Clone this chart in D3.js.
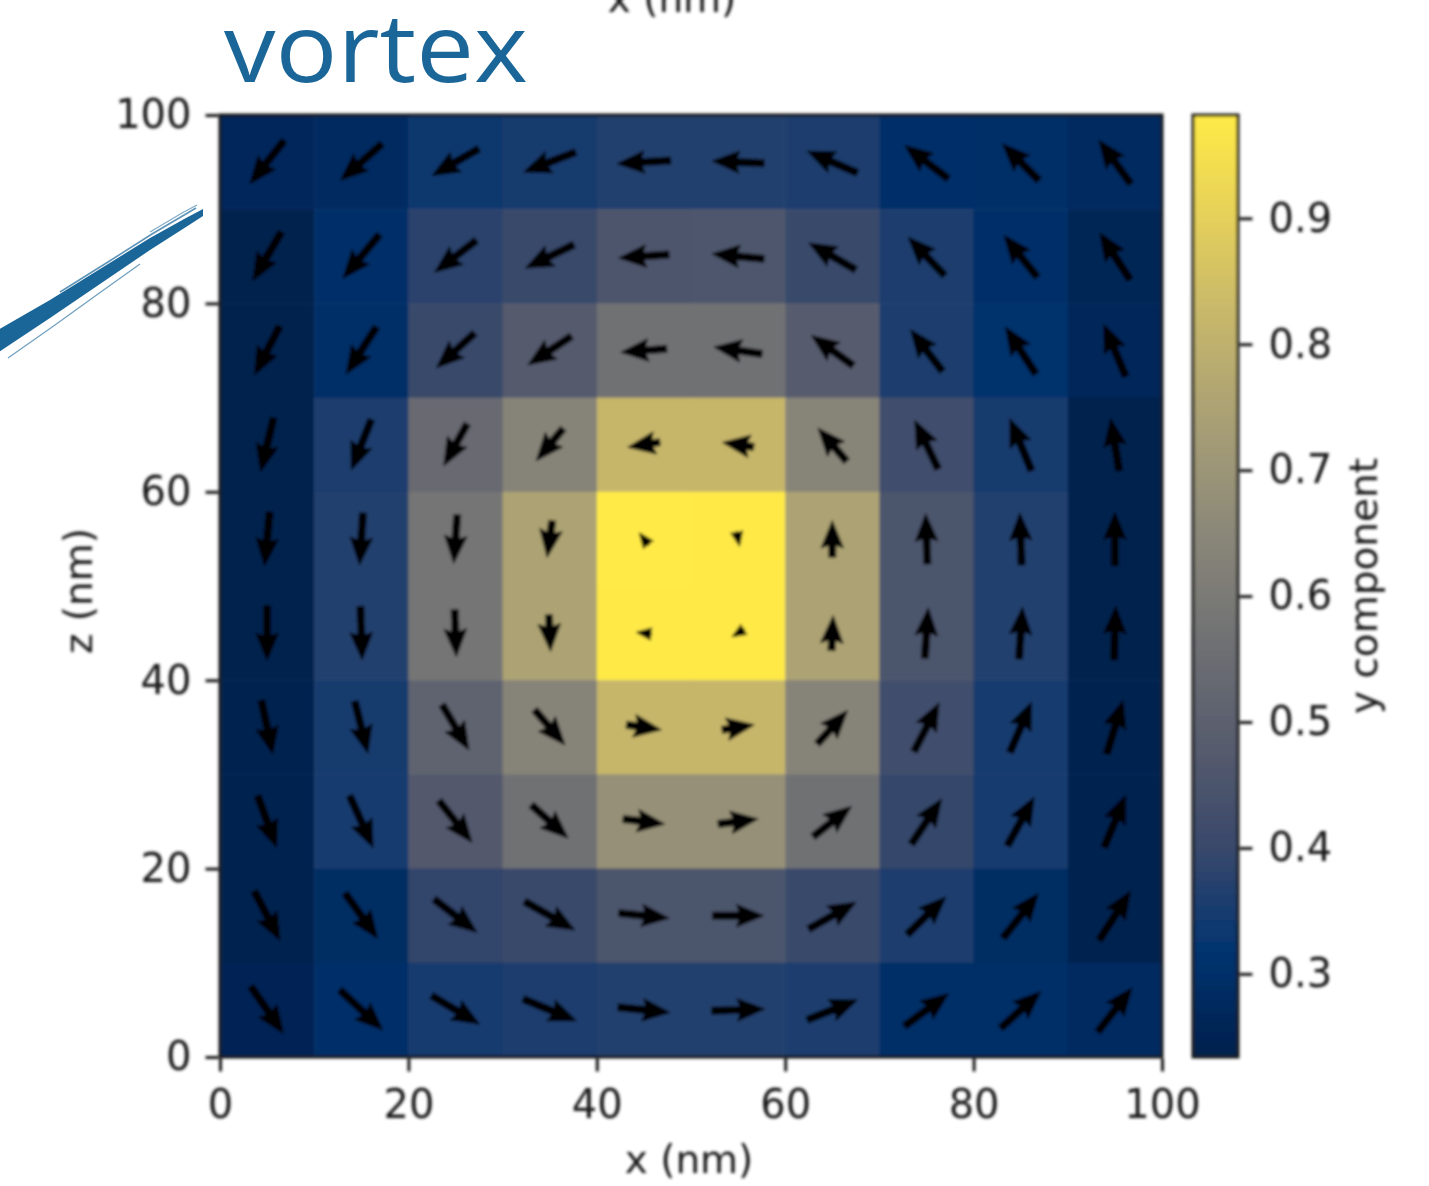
<!DOCTYPE html>
<html>
<head>
<meta charset="utf-8">
<script src="https://cdn.jsdelivr.net/npm/d3@7"></script>
<style>
  html, body { margin: 0; padding: 0; background: #ffffff; }
  svg { display: block; }
</style>
</head>
<body>
<svg id="fig" width="1429" height="1186"></svg>
<script>
// Cell centres of the 10 x 10 simulation grid (nm); rows listed top (z = 95) to bottom (z = 5)
const xCentres = [5, 15, 25, 35, 45, 55, 65, 75, 85, 95];
const zCentres = [95, 85, 75, 65, 55, 45, 35, 25, 15, 5];

// Out-of-plane (y) magnetisation component per cell
const yComponent = [
  [0.270, 0.280, 0.340, 0.350, 0.365, 0.365, 0.360, 0.300, 0.295, 0.280],
  [0.235, 0.300, 0.380, 0.400, 0.455, 0.458, 0.400, 0.355, 0.300, 0.255],
  [0.235, 0.295, 0.400, 0.475, 0.565, 0.567, 0.483, 0.358, 0.310, 0.265],
  [0.236, 0.355, 0.536, 0.636, 0.820, 0.820, 0.640, 0.423, 0.350, 0.236],
  [0.236, 0.365, 0.580, 0.750, 0.982, 0.980, 0.750, 0.452, 0.365, 0.234],
  [0.236, 0.366, 0.580, 0.750, 0.980, 0.980, 0.750, 0.452, 0.366, 0.235],
  [0.240, 0.349, 0.510, 0.636, 0.820, 0.820, 0.636, 0.423, 0.348, 0.240],
  [0.242, 0.343, 0.472, 0.567, 0.682, 0.682, 0.567, 0.395, 0.343, 0.240],
  [0.240, 0.290, 0.390, 0.400, 0.452, 0.452, 0.400, 0.358, 0.290, 0.242],
  [0.250, 0.300, 0.343, 0.358, 0.366, 0.366, 0.355, 0.295, 0.295, 0.280]
];

// In-plane components drawn as arrows: x component and z component
const xComponent = [
  [-0.60, -0.73, -0.82, -0.91, -0.94, -0.91, -0.88, -0.76, -0.64, -0.56],
  [-0.50, -0.64, -0.73, -0.85, -0.88, -0.91, -0.82, -0.64, -0.58, -0.53],
  [-0.44, -0.53, -0.67, -0.76, -0.80, -0.84, -0.73, -0.56, -0.53, -0.38],
  [-0.23, -0.35, -0.41, -0.47, -0.56, -0.55, -0.50, -0.41, -0.38, -0.15],
  [-0.09, -0.06, -0.06, -0.09, -0.16, 0.05, 0.00, -0.03, -0.03, 0.00],
  [0.00, 0.03, 0.03, 0.03, -0.26, -0.21, 0.03, 0.06, 0.06, 0.03],
  [0.20, 0.23, 0.47, 0.53, 0.61, 0.56, 0.53, 0.44, 0.38, 0.29],
  [0.33, 0.41, 0.58, 0.64, 0.73, 0.70, 0.67, 0.53, 0.47, 0.38],
  [0.45, 0.57, 0.75, 0.88, 0.88, 0.90, 0.83, 0.68, 0.62, 0.55],
  [0.57, 0.75, 0.84, 0.93, 0.91, 0.93, 0.88, 0.77, 0.70, 0.60]
];
const zComponent = [
  [-0.76, -0.64, -0.47, -0.35, -0.06, 0.04, 0.38, 0.58, 0.64, 0.76],
  [-0.85, -0.76, -0.56, -0.41, -0.06, 0.09, 0.47, 0.67, 0.73, 0.82],
  [-0.85, -0.82, -0.61, -0.50, -0.06, 0.12, 0.53, 0.73, 0.82, 0.91],
  [-0.94, -0.88, -0.73, -0.56, -0.09, 0.08, 0.58, 0.85, 0.91, 0.91],
  [-0.94, -0.91, -0.85, -0.64, 0.21, -0.25, 0.64, 0.88, 0.91, 0.94],
  [-0.96, -0.94, -0.82, -0.64, 0.03, -0.13, 0.61, 0.88, 0.91, 0.94],
  [-0.94, -0.91, -0.79, -0.61, -0.09, 0.09, 0.58, 0.85, 0.88, 0.94],
  [-0.91, -0.91, -0.73, -0.58, -0.09, 0.09, 0.53, 0.79, 0.85, 0.91],
  [-0.86, -0.79, -0.58, -0.50, -0.09, 0.00, 0.47, 0.66, 0.78, 0.86],
  [-0.82, -0.70, -0.50, -0.38, -0.09, 0.03, 0.35, 0.57, 0.64, 0.77]
];

const axisTicks = [0, 20, 40, 60, 80, 100];
const colourTicks = [0.3, 0.4, 0.5, 0.6, 0.7, 0.8, 0.9];

// cividis palette, evenly spaced stops
const cividisStops = ["#00204d", "#00336f", "#39486b", "#575c6d", "#707173",
                      "#8a8779", "#a69d75", "#c4b56c", "#e4cf5b", "#ffea46"];

const svg = d3.select("#fig");
const FONT = "'DejaVu Sans', sans-serif";
const INK = "#151515";

const plot = { left: 220, right: 1162, top: 115, bottom: 1057 };
const bar = { left: 1193, right: 1238, top: 115, bottom: 1057 };

const x = d3.scaleLinear().domain([0, 100]).range([plot.left, plot.right]);
const z = d3.scaleLinear().domain([0, 100]).range([plot.bottom, plot.top]);

const [vmin, vmax] = d3.extent(yComponent.flat());
const colour = d3.scaleLinear()
  .domain(cividisStops.map((_, i) => vmin + (vmax - vmin) * i / (cividisStops.length - 1)))
  .range(cividisStops)
  .interpolate(d3.interpolateRgb)
  .clamp(true);
const barScale = d3.scaleLinear().domain([vmin, vmax]).range([bar.bottom, bar.top]);
const arrowLen = d3.scaleLinear().domain([0, 1]).range([0, 57]);

const defs = svg.append("defs");
// soft rendering of the figure
defs.append("filter").attr("id", "soft")
  .attr("x", "-5%").attr("y", "-5%").attr("width", "110%").attr("height", "110%")
  .append("feGaussianBlur").attr("stdDeviation", 1.45);

// colour-bar gradient, sampled from the colour scale
const grad = defs.append("linearGradient").attr("id", "cbar")
  .attr("x1", 0).attr("y1", 1).attr("x2", 0).attr("y2", 0);
grad.selectAll("stop").data(d3.range(0, 41).map(i => i / 40)).join("stop")
  .attr("offset", t => t)
  .attr("stop-color", t => colour(vmin + (vmax - vmin) * t));

const fig = svg.append("g").attr("filter", "url(#soft)");

// ---- heat-map cells ----
const cells = [];
zCentres.forEach((zc, r) => xCentres.forEach((xc, c) => {
  cells.push({ xc, zc, v: yComponent[r][c], u: xComponent[r][c], w: zComponent[r][c] });
}));

fig.append("g").selectAll("rect").data(cells).join("rect")
  .attr("x", d => x(d.xc - 5))
  .attr("y", d => z(d.zc + 5))
  .attr("width", d => x(d.xc + 5) - x(d.xc - 5) + 0.5)
  .attr("height", d => z(d.zc - 5) - z(d.zc + 5) + 0.5)
  .attr("fill", d => colour(d.v));

// ---- quiver arrows (shaft width W, pivot at the arrow middle) ----
const W = 7.0, HL = 3.9 * W, HAL = 3.5 * W, HW = 3.2 * W;
function arrowShape(L) {
  let X, Y;
  const baseY = [W / 2, W / 2, HW / 2, 0, -HW / 2, -W / 2, -W / 2];
  if (L >= HL) {
    X = [0, L - HAL, L - HL, L, L - HL, L - HAL, 0];
    Y = baseY;
  } else {
    const s = L / HL;
    X = [0, HL - HAL, 0, HL, 0, HL - HAL, 0].map(v => v * s);
    Y = baseY.map(v => v * s);
  }
  const mid = X[3] / 2;
  return X.map((v, i) => [v - mid, Y[i]]);
}
const line = d3.line();
fig.append("g").selectAll("path").data(cells).join("path")
  .attr("d", d => line(arrowShape(arrowLen(Math.hypot(d.u, d.w)))) + "Z")
  .attr("transform", d => `translate(${x(d.xc)},${z(d.zc)}) rotate(${Math.atan2(-d.w, d.u) * 180 / Math.PI})`)
  .attr("fill", "#000")
  .attr("stroke", "#000").attr("stroke-width", 1).attr("stroke-linejoin", "round");

// ---- frame ----
fig.append("rect")
  .attr("x", plot.left).attr("y", plot.top)
  .attr("width", plot.right - plot.left).attr("height", plot.bottom - plot.top)
  .attr("fill", "none").attr("stroke", INK).attr("stroke-width", 3);

function styleAxis(g) {
  g.select(".domain").remove();
  g.selectAll(".tick line").attr("stroke", INK).attr("stroke-width", 3);
  g.selectAll(".tick text").attr("fill", INK)
    .attr("font-family", FONT).attr("font-size", 40);
}

fig.append("g").attr("transform", `translate(${plot.left - 1.5},0)`)
  .call(d3.axisLeft(z).tickValues(axisTicks).tickSize(13).tickPadding(14).tickFormat(d3.format("d")))
  .call(styleAxis);

fig.append("g").attr("transform", `translate(0,${plot.bottom + 1.5})`)
  .call(d3.axisBottom(x).tickValues(axisTicks).tickSize(13).tickPadding(18).tickFormat(d3.format("d")))
  .call(styleAxis);

// ---- axis labels ----
fig.append("text")
  .attr("x", (plot.left + plot.right) / 2 - 2).attr("y", 1173)
  .attr("text-anchor", "middle").attr("font-family", FONT).attr("font-size", 39).attr("fill", INK)
  .text("x (nm)");

fig.append("text")
  .attr("x", 672).attr("y", 12)
  .attr("text-anchor", "middle").attr("font-family", FONT).attr("font-size", 39).attr("fill", INK)
  .text("x (nm)");

fig.append("text")
  .attr("transform", `translate(92,${(plot.top + plot.bottom) / 2 + 5}) rotate(-90)`)
  .attr("text-anchor", "middle").attr("font-family", FONT).attr("font-size", 39).attr("fill", INK)
  .text("z (nm)");

// ---- colour bar ----
fig.append("rect")
  .attr("x", bar.left).attr("y", bar.top)
  .attr("width", bar.right - bar.left).attr("height", bar.bottom - bar.top)
  .attr("fill", "url(#cbar)")
  .attr("stroke", INK).attr("stroke-width", 3);

fig.append("g").attr("transform", `translate(${bar.right + 1.5},0)`)
  .call(d3.axisRight(barScale).tickValues(colourTicks).tickSize(13).tickPadding(16).tickFormat(d3.format(".1f")))
  .call(styleAxis);

fig.append("text")
  .attr("transform", `translate(1377,${(bar.top + bar.bottom) / 2}) rotate(-90)`)
  .attr("text-anchor", "middle").attr("font-family", FONT).attr("font-size", 39).attr("fill", INK)
  .text("y component");

// ---- title and brush stroke ----
const BLUE = "#1a6698";
svg.append("text")
  .attr("x", 224).attr("y", 82)
  .attr("font-family", "'Open Sans', sans-serif").attr("font-size", 95).attr("font-weight", 400)
  .attr("textLength", 304).attr("lengthAdjust", "spacingAndGlyphs")
  .attr("fill", BLUE)
  .text("vortex");

const brush = svg.append("g").attr("fill", BLUE).attr("stroke", "none");
brush.append("path")
  .attr("d", "M-4,331 L50,300 L100,269 L150,238 L186,218 L203,209 L203,216 L186,227 L150,250 L100,284 L50,318 L-4,354 Z");
brush.append("path").attr("fill", "none").attr("stroke", BLUE).attr("stroke-width", 1.6).attr("opacity", 0.7)
  .attr("d", "M60,292 L108,262 L152,234 L196,208");
brush.append("path").attr("fill", "none").attr("stroke", BLUE).attr("stroke-width", 1.4).attr("opacity", 0.6)
  .attr("d", "M8,358 L55,325 L98,294 L140,264");
brush.append("path").attr("fill", "none").attr("stroke", BLUE).attr("stroke-width", 1.2).attr("opacity", 0.55)
  .attr("d", "M150,232 L182,213 L197,205");
</script>
</body>
</html>
